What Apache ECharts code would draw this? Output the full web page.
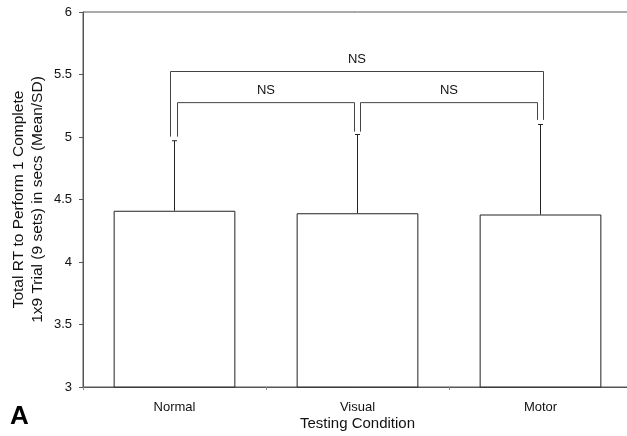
<!DOCTYPE html>
<html>
<head>
<meta charset="utf-8">
<script src="https://cdn.jsdelivr.net/npm/echarts@6/dist/echarts.min.js"></script>
<style>
html,body{margin:0;padding:0;background:#fff;overflow:hidden;}
#chart{width:640px;height:436px;}
</style>
</head>
<body>
<div id="chart"></div>
<script>
// ---- data ----
var categories = ['Normal', 'Visual', 'Motor'];
var means = [4.41, 4.39, 4.38];
var sds = [0.56, 0.63, 0.72];
var yTicks = [3, 3.5, 4, 4.5, 5, 5.5, 6];
// comparison brackets: from category, to category, bracket height (value), label
var cmpFrom = [0, 1, 0];
var cmpTo = [1, 2, 2];
var cmpLevel = [5.275, 5.275, 5.524];
var cmpLabel = ['NS', 'NS', 'NS'];
// value where bracket legs end above each category
var legEnd = [5.003, 5.043, 5.137];

var FONT = '"Liberation Sans", Arial, Helvetica, sans-serif';
var chart = echarts.init(document.getElementById('chart'), null, {renderer: 'canvas'});

var errData = categories.map(function (c, i) { return [i, means[i], means[i] + sds[i]]; });
var cmpData = cmpFrom.map(function (f, k) { return [f, cmpTo[k], cmpLevel[k], cmpLabel[k], (cmpTo[k] - f) > 1 ? 1 : 0]; });

var option = {
  animation: false,
  backgroundColor: '#fff',
  textStyle: {fontFamily: FONT},
  grid: {left: 83, top: 12, width: 549, bottom: 49, show: true, borderColor: '#555', borderWidth: 1,
         backgroundColor: 'transparent', containLabel: false, outerBoundsMode: 'none'},
  graphic: [{
    type: 'text', left: 10, top: 404,
    style: {text: 'A', font: 'bold 26px ' + FONT, fill: '#000'}
  }],
  xAxis: {
    type: 'category',
    data: categories,
    name: 'Testing Condition',
    nameLocation: 'middle',
    nameGap: 29,
    nameMoveOverlap: false,
    nameTextStyle: {fontSize: 15, color: '#111', fontFamily: FONT},
    axisLine: {lineStyle: {color: '#555', width: 1}},
    axisTick: {show: true, length: 3, lineStyle: {color: '#888'}},
    axisLabel: {fontSize: 13, color: '#111', margin: 14, fontFamily: FONT}
  },
  yAxis: {
    type: 'value',
    min: yTicks[0], max: yTicks[yTicks.length - 1], interval: 0.5,
    name: 'Total RT to Perform 1 Complete\n1x9 Trial (9 sets) in secs (Mean/SD)',
    nameLocation: 'middle',
    nameGap: 36,
    nameMoveOverlap: false,
    nameTextStyle: {fontSize: 15.5, lineHeight: 19, color: '#111', fontFamily: FONT, align: 'center'},
    axisLine: {show: true, lineStyle: {color: '#555', width: 1}},
    axisTick: {show: true, length: 4, lineStyle: {color: '#555'}},
    axisLabel: {fontSize: 13, color: '#111', margin: 11, fontFamily: FONT},
    splitLine: {show: false}
  },
  series: [
    {
      type: 'bar',
      data: means,
      barWidth: '66.5%',
      itemStyle: {color: '#fff', borderColor: '#222', borderWidth: 1},
      z: 2
    },
    {
      type: 'custom',
      data: errData,
      z: 3,
      renderItem: function (params, api) {
        var x = api.coord([api.value(0), api.value(1)]);
        var t = api.coord([api.value(0), api.value(2)]);
        var style = {stroke: '#222', lineWidth: 1};
        return {
          type: 'group',
          children: [
            {type: 'line', shape: {x1: x[0], y1: x[1], x2: x[0], y2: t[1]}, style: style},
            {type: 'line', shape: {x1: x[0] - 2.5, y1: t[1], x2: x[0] + 2.5, y2: t[1]}, style: style}
          ]
        };
      }
    },
    {
      type: 'custom',
      data: cmpData,
      z: 3,
      renderItem: function (params, api) {
        var f = api.value(0), to = api.value(1), lvl = api.value(2), outer = api.value(4);
        var pf = api.coord([f, lvl]);
        var pt = api.coord([to, lvl]);
        var ef = api.coord([f, legEnd[f]]);
        var et = api.coord([to, legEnd[to]]);
        var x1 = pf[0] + (outer ? -4 : 3);
        var x2 = pt[0] + (outer ? 3 : -3);
        var y = pf[1];
        var style = {stroke: '#444', lineWidth: 1, fill: null};
        return {
          type: 'group',
          children: [
            {type: 'polyline', shape: {points: [[x1, ef[1]], [x1, y], [x2, y], [x2, et[1]]]}, style: style},
            {type: 'text', style: {text: cmpData[params.dataIndex][3], x: (x1 + x2) / 2, y: y - 12,
              align: 'center', verticalAlign: 'middle', font: '13px ' + FONT, fill: '#111'}}
          ]
        };
      }
    }
  ]
};
chart.setOption(option);
</script>
</body>
</html>
